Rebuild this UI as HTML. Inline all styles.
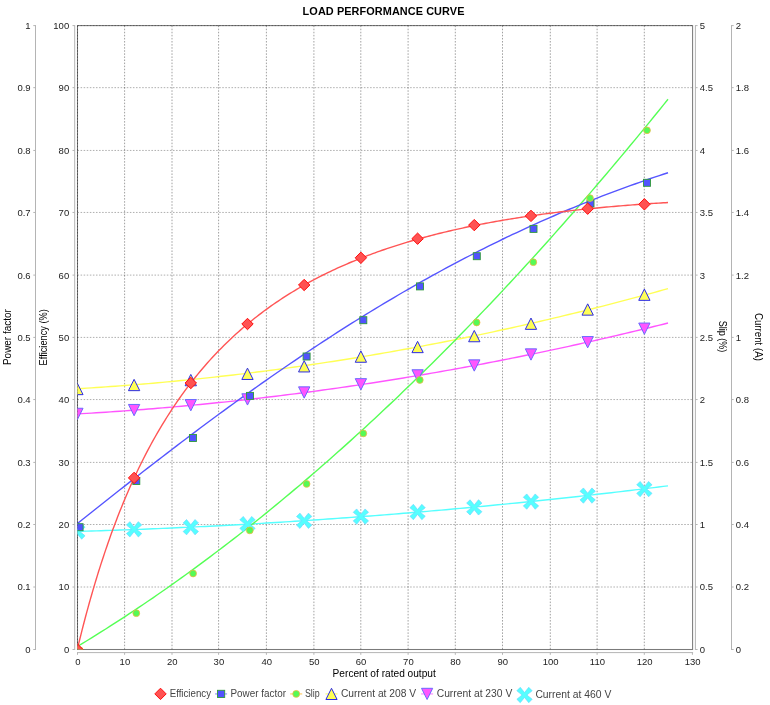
<!DOCTYPE html>
<html><head><meta charset="utf-8"><title>Load Performance Curve</title>
<style>
html,body{margin:0;padding:0;background:#fff;}
body{width:770px;height:705px;overflow:hidden;font-family:"Liberation Sans", sans-serif;}
svg{will-change:transform;}
svg text{font-family:"Liberation Sans", sans-serif;}
.tk{font-size:9.5px;fill:#222;}
.al{font-size:10px;fill:#000;}
.lg{font-size:10px;fill:#444;}
.title{font-size:10.9px;font-weight:bold;fill:#000;}
</style></head><body>
<svg width="770" height="705" viewBox="0 0 770 705" style="display:block">
<rect x="0" y="0" width="770" height="705" fill="#ffffff"/>
<defs><clipPath id="plotclip"><rect x="77.5" y="25.6" width="615.1" height="623.9"/></clipPath></defs>
<rect x="77.5" y="25.6" width="615.1" height="623.9" fill="none" stroke="#7a7a7a" stroke-width="1.05"/>
<g stroke="#000" stroke-opacity="0.47" stroke-width="0.8" stroke-dasharray="1.54 1.54" fill="none">
<line x1="77.50" y1="25.6" x2="77.50" y2="649.5"/>
<line x1="124.60" y1="25.6" x2="124.60" y2="649.5"/>
<line x1="172.00" y1="25.6" x2="172.00" y2="649.5"/>
<line x1="218.60" y1="25.6" x2="218.60" y2="649.5"/>
<line x1="266.40" y1="25.6" x2="266.40" y2="649.5"/>
<line x1="313.90" y1="25.6" x2="313.90" y2="649.5"/>
<line x1="360.80" y1="25.6" x2="360.80" y2="649.5"/>
<line x1="408.10" y1="25.6" x2="408.10" y2="649.5"/>
<line x1="455.30" y1="25.6" x2="455.30" y2="649.5"/>
<line x1="502.50" y1="25.6" x2="502.50" y2="649.5"/>
<line x1="550.30" y1="25.6" x2="550.30" y2="649.5"/>
<line x1="597.10" y1="25.6" x2="597.10" y2="649.5"/>
<line x1="644.30" y1="25.6" x2="644.30" y2="649.5"/>
</g>
<g stroke="#000" stroke-opacity="0.4" stroke-width="0.8" stroke-dasharray="1.54 1.54" fill="none">
<line x1="77.5" y1="587.00" x2="692.6" y2="587.00"/>
<line x1="77.5" y1="524.50" x2="692.6" y2="524.50"/>
<line x1="77.5" y1="462.40" x2="692.6" y2="462.40"/>
<line x1="77.5" y1="399.55" x2="692.6" y2="399.55"/>
<line x1="77.5" y1="337.40" x2="692.6" y2="337.40"/>
<line x1="77.5" y1="275.10" x2="692.6" y2="275.10"/>
<line x1="77.5" y1="212.45" x2="692.6" y2="212.45"/>
<line x1="77.5" y1="150.45" x2="692.6" y2="150.45"/>
<line x1="77.5" y1="87.66" x2="692.6" y2="87.66"/>
<line x1="77.5" y1="25.60" x2="692.6" y2="25.60"/>
</g>
<line x1="35.5" y1="25.1" x2="35.5" y2="650.0" stroke="#b4b4b4" stroke-width="1"/>
<line x1="35.5" y1="649.50" x2="33.3" y2="649.50" stroke="#b4b4b4" stroke-width="1"/>
<text x="30.6" y="652.90" text-anchor="end" class="tk">0</text>
<line x1="35.5" y1="587.00" x2="33.3" y2="587.00" stroke="#b4b4b4" stroke-width="1"/>
<text x="30.6" y="590.40" text-anchor="end" class="tk">0.1</text>
<line x1="35.5" y1="524.50" x2="33.3" y2="524.50" stroke="#b4b4b4" stroke-width="1"/>
<text x="30.6" y="527.90" text-anchor="end" class="tk">0.2</text>
<line x1="35.5" y1="462.40" x2="33.3" y2="462.40" stroke="#b4b4b4" stroke-width="1"/>
<text x="30.6" y="465.80" text-anchor="end" class="tk">0.3</text>
<line x1="35.5" y1="399.55" x2="33.3" y2="399.55" stroke="#b4b4b4" stroke-width="1"/>
<text x="30.6" y="402.95" text-anchor="end" class="tk">0.4</text>
<line x1="35.5" y1="337.40" x2="33.3" y2="337.40" stroke="#b4b4b4" stroke-width="1"/>
<text x="30.6" y="340.80" text-anchor="end" class="tk">0.5</text>
<line x1="35.5" y1="275.10" x2="33.3" y2="275.10" stroke="#b4b4b4" stroke-width="1"/>
<text x="30.6" y="278.50" text-anchor="end" class="tk">0.6</text>
<line x1="35.5" y1="212.45" x2="33.3" y2="212.45" stroke="#b4b4b4" stroke-width="1"/>
<text x="30.6" y="215.85" text-anchor="end" class="tk">0.7</text>
<line x1="35.5" y1="150.45" x2="33.3" y2="150.45" stroke="#b4b4b4" stroke-width="1"/>
<text x="30.6" y="153.85" text-anchor="end" class="tk">0.8</text>
<line x1="35.5" y1="87.66" x2="33.3" y2="87.66" stroke="#b4b4b4" stroke-width="1"/>
<text x="30.6" y="91.06" text-anchor="end" class="tk">0.9</text>
<line x1="35.5" y1="25.60" x2="33.3" y2="25.60" stroke="#b4b4b4" stroke-width="1"/>
<text x="30.6" y="29.00" text-anchor="end" class="tk">1</text>
<line x1="74.7" y1="25.1" x2="74.7" y2="650.0" stroke="#b4b4b4" stroke-width="1"/>
<line x1="74.7" y1="649.50" x2="72.5" y2="649.50" stroke="#b4b4b4" stroke-width="1"/>
<text x="69.2" y="652.90" text-anchor="end" class="tk">0</text>
<line x1="74.7" y1="587.00" x2="72.5" y2="587.00" stroke="#b4b4b4" stroke-width="1"/>
<text x="69.2" y="590.40" text-anchor="end" class="tk">10</text>
<line x1="74.7" y1="524.50" x2="72.5" y2="524.50" stroke="#b4b4b4" stroke-width="1"/>
<text x="69.2" y="527.90" text-anchor="end" class="tk">20</text>
<line x1="74.7" y1="462.40" x2="72.5" y2="462.40" stroke="#b4b4b4" stroke-width="1"/>
<text x="69.2" y="465.80" text-anchor="end" class="tk">30</text>
<line x1="74.7" y1="399.55" x2="72.5" y2="399.55" stroke="#b4b4b4" stroke-width="1"/>
<text x="69.2" y="402.95" text-anchor="end" class="tk">40</text>
<line x1="74.7" y1="337.40" x2="72.5" y2="337.40" stroke="#b4b4b4" stroke-width="1"/>
<text x="69.2" y="340.80" text-anchor="end" class="tk">50</text>
<line x1="74.7" y1="275.10" x2="72.5" y2="275.10" stroke="#b4b4b4" stroke-width="1"/>
<text x="69.2" y="278.50" text-anchor="end" class="tk">60</text>
<line x1="74.7" y1="212.45" x2="72.5" y2="212.45" stroke="#b4b4b4" stroke-width="1"/>
<text x="69.2" y="215.85" text-anchor="end" class="tk">70</text>
<line x1="74.7" y1="150.45" x2="72.5" y2="150.45" stroke="#b4b4b4" stroke-width="1"/>
<text x="69.2" y="153.85" text-anchor="end" class="tk">80</text>
<line x1="74.7" y1="87.66" x2="72.5" y2="87.66" stroke="#b4b4b4" stroke-width="1"/>
<text x="69.2" y="91.06" text-anchor="end" class="tk">90</text>
<line x1="74.7" y1="25.60" x2="72.5" y2="25.60" stroke="#b4b4b4" stroke-width="1"/>
<text x="69.2" y="29.00" text-anchor="end" class="tk">100</text>
<line x1="695.4" y1="25.1" x2="695.4" y2="650.0" stroke="#b4b4b4" stroke-width="1"/>
<line x1="695.4" y1="649.50" x2="697.6" y2="649.50" stroke="#b4b4b4" stroke-width="1"/>
<text x="699.8" y="652.90" text-anchor="start" class="tk">0</text>
<line x1="695.4" y1="587.00" x2="697.6" y2="587.00" stroke="#b4b4b4" stroke-width="1"/>
<text x="699.8" y="590.40" text-anchor="start" class="tk">0.5</text>
<line x1="695.4" y1="524.50" x2="697.6" y2="524.50" stroke="#b4b4b4" stroke-width="1"/>
<text x="699.8" y="527.90" text-anchor="start" class="tk">1</text>
<line x1="695.4" y1="462.40" x2="697.6" y2="462.40" stroke="#b4b4b4" stroke-width="1"/>
<text x="699.8" y="465.80" text-anchor="start" class="tk">1.5</text>
<line x1="695.4" y1="399.55" x2="697.6" y2="399.55" stroke="#b4b4b4" stroke-width="1"/>
<text x="699.8" y="402.95" text-anchor="start" class="tk">2</text>
<line x1="695.4" y1="337.40" x2="697.6" y2="337.40" stroke="#b4b4b4" stroke-width="1"/>
<text x="699.8" y="340.80" text-anchor="start" class="tk">2.5</text>
<line x1="695.4" y1="275.10" x2="697.6" y2="275.10" stroke="#b4b4b4" stroke-width="1"/>
<text x="699.8" y="278.50" text-anchor="start" class="tk">3</text>
<line x1="695.4" y1="212.45" x2="697.6" y2="212.45" stroke="#b4b4b4" stroke-width="1"/>
<text x="699.8" y="215.85" text-anchor="start" class="tk">3.5</text>
<line x1="695.4" y1="150.45" x2="697.6" y2="150.45" stroke="#b4b4b4" stroke-width="1"/>
<text x="699.8" y="153.85" text-anchor="start" class="tk">4</text>
<line x1="695.4" y1="87.66" x2="697.6" y2="87.66" stroke="#b4b4b4" stroke-width="1"/>
<text x="699.8" y="91.06" text-anchor="start" class="tk">4.5</text>
<line x1="695.4" y1="25.60" x2="697.6" y2="25.60" stroke="#b4b4b4" stroke-width="1"/>
<text x="699.8" y="29.00" text-anchor="start" class="tk">5</text>
<line x1="731.5" y1="25.1" x2="731.5" y2="650.0" stroke="#b4b4b4" stroke-width="1"/>
<line x1="731.5" y1="649.50" x2="733.7" y2="649.50" stroke="#b4b4b4" stroke-width="1"/>
<text x="735.8" y="652.90" text-anchor="start" class="tk">0</text>
<line x1="731.5" y1="587.00" x2="733.7" y2="587.00" stroke="#b4b4b4" stroke-width="1"/>
<text x="735.8" y="590.40" text-anchor="start" class="tk">0.2</text>
<line x1="731.5" y1="524.50" x2="733.7" y2="524.50" stroke="#b4b4b4" stroke-width="1"/>
<text x="735.8" y="527.90" text-anchor="start" class="tk">0.4</text>
<line x1="731.5" y1="462.40" x2="733.7" y2="462.40" stroke="#b4b4b4" stroke-width="1"/>
<text x="735.8" y="465.80" text-anchor="start" class="tk">0.6</text>
<line x1="731.5" y1="399.55" x2="733.7" y2="399.55" stroke="#b4b4b4" stroke-width="1"/>
<text x="735.8" y="402.95" text-anchor="start" class="tk">0.8</text>
<line x1="731.5" y1="337.40" x2="733.7" y2="337.40" stroke="#b4b4b4" stroke-width="1"/>
<text x="735.8" y="340.80" text-anchor="start" class="tk">1</text>
<line x1="731.5" y1="275.10" x2="733.7" y2="275.10" stroke="#b4b4b4" stroke-width="1"/>
<text x="735.8" y="278.50" text-anchor="start" class="tk">1.2</text>
<line x1="731.5" y1="212.45" x2="733.7" y2="212.45" stroke="#b4b4b4" stroke-width="1"/>
<text x="735.8" y="215.85" text-anchor="start" class="tk">1.4</text>
<line x1="731.5" y1="150.45" x2="733.7" y2="150.45" stroke="#b4b4b4" stroke-width="1"/>
<text x="735.8" y="153.85" text-anchor="start" class="tk">1.6</text>
<line x1="731.5" y1="87.66" x2="733.7" y2="87.66" stroke="#b4b4b4" stroke-width="1"/>
<text x="735.8" y="91.06" text-anchor="start" class="tk">1.8</text>
<line x1="731.5" y1="25.60" x2="733.7" y2="25.60" stroke="#b4b4b4" stroke-width="1"/>
<text x="735.8" y="29.00" text-anchor="start" class="tk">2</text>
<line x1="77.0" y1="652.6" x2="693.1" y2="652.6" stroke="#b4b4b4" stroke-width="1"/>
<line x1="77.50" y1="652.6" x2="77.50" y2="654.8000000000001" stroke="#b4b4b4" stroke-width="1"/>
<text x="77.80" y="664.9" text-anchor="middle" class="tk">0</text>
<line x1="124.60" y1="652.6" x2="124.60" y2="654.8000000000001" stroke="#b4b4b4" stroke-width="1"/>
<text x="124.90" y="664.9" text-anchor="middle" class="tk">10</text>
<line x1="172.00" y1="652.6" x2="172.00" y2="654.8000000000001" stroke="#b4b4b4" stroke-width="1"/>
<text x="172.30" y="664.9" text-anchor="middle" class="tk">20</text>
<line x1="218.60" y1="652.6" x2="218.60" y2="654.8000000000001" stroke="#b4b4b4" stroke-width="1"/>
<text x="218.90" y="664.9" text-anchor="middle" class="tk">30</text>
<line x1="266.40" y1="652.6" x2="266.40" y2="654.8000000000001" stroke="#b4b4b4" stroke-width="1"/>
<text x="266.70" y="664.9" text-anchor="middle" class="tk">40</text>
<line x1="313.90" y1="652.6" x2="313.90" y2="654.8000000000001" stroke="#b4b4b4" stroke-width="1"/>
<text x="314.20" y="664.9" text-anchor="middle" class="tk">50</text>
<line x1="360.80" y1="652.6" x2="360.80" y2="654.8000000000001" stroke="#b4b4b4" stroke-width="1"/>
<text x="361.10" y="664.9" text-anchor="middle" class="tk">60</text>
<line x1="408.10" y1="652.6" x2="408.10" y2="654.8000000000001" stroke="#b4b4b4" stroke-width="1"/>
<text x="408.40" y="664.9" text-anchor="middle" class="tk">70</text>
<line x1="455.30" y1="652.6" x2="455.30" y2="654.8000000000001" stroke="#b4b4b4" stroke-width="1"/>
<text x="455.60" y="664.9" text-anchor="middle" class="tk">80</text>
<line x1="502.50" y1="652.6" x2="502.50" y2="654.8000000000001" stroke="#b4b4b4" stroke-width="1"/>
<text x="502.80" y="664.9" text-anchor="middle" class="tk">90</text>
<line x1="550.30" y1="652.6" x2="550.30" y2="654.8000000000001" stroke="#b4b4b4" stroke-width="1"/>
<text x="550.60" y="664.9" text-anchor="middle" class="tk">100</text>
<line x1="597.10" y1="652.6" x2="597.10" y2="654.8000000000001" stroke="#b4b4b4" stroke-width="1"/>
<text x="597.40" y="664.9" text-anchor="middle" class="tk">110</text>
<line x1="644.30" y1="652.6" x2="644.30" y2="654.8000000000001" stroke="#b4b4b4" stroke-width="1"/>
<text x="644.60" y="664.9" text-anchor="middle" class="tk">120</text>
<line x1="692.40" y1="652.6" x2="692.40" y2="654.8000000000001" stroke="#b4b4b4" stroke-width="1"/>
<text x="692.70" y="664.9" text-anchor="middle" class="tk">130</text>
<g clip-path="url(#plotclip)" fill="none" stroke-width="1.4" stroke-linejoin="round">
<path d="M77.40,531.45 L82.12,531.31 L86.85,531.17 L91.57,531.03 L96.30,530.88 L101.02,530.72 L105.75,530.57 L110.47,530.41 L115.20,530.24 L119.92,530.07 L124.65,529.90 L129.37,529.73 L134.10,529.55 L138.82,529.37 L143.55,529.18 L148.27,528.99 L153.00,528.80 L157.72,528.60 L162.45,528.40 L167.17,528.19 L171.90,527.99 L176.62,527.77 L181.35,527.56 L186.07,527.34 L190.80,527.12 L195.52,526.89 L200.24,526.66 L204.97,526.43 L209.69,526.19 L214.42,525.95 L219.14,525.70 L223.87,525.46 L228.59,525.20 L233.32,524.95 L238.04,524.69 L242.77,524.43 L247.49,524.16 L252.22,523.89 L256.94,523.62 L261.67,523.34 L266.39,523.06 L271.12,522.77 L275.84,522.49 L280.57,522.19 L285.29,521.90 L290.02,521.60 L294.74,521.30 L299.47,520.99 L304.19,520.68 L308.92,520.37 L313.64,520.05 L318.36,519.73 L323.09,519.40 L327.81,519.07 L332.54,518.74 L337.26,518.41 L341.99,518.07 L346.71,517.72 L351.44,517.38 L356.16,517.03 L360.89,516.67 L365.61,516.31 L370.34,515.95 L375.06,515.59 L379.79,515.22 L384.51,514.85 L389.24,514.47 L393.96,514.09 L398.69,513.71 L403.41,513.32 L408.14,512.93 L412.86,512.54 L417.59,512.14 L422.31,511.74 L427.04,511.33 L431.76,510.92 L436.48,510.51 L441.21,510.09 L445.93,509.68 L450.66,509.25 L455.38,508.82 L460.11,508.39 L464.83,507.96 L469.56,507.52 L474.28,507.08 L479.01,506.64 L483.73,506.19 L488.46,505.73 L493.18,505.28 L497.91,504.82 L502.63,504.35 L507.36,503.89 L512.08,503.42 L516.81,502.94 L521.53,502.46 L526.26,501.98 L530.98,501.50 L535.71,501.01 L540.43,500.51 L545.16,500.02 L549.88,499.52 L554.60,499.01 L559.33,498.51 L564.05,498.00 L568.78,497.48 L573.50,496.96 L578.23,496.44 L582.95,495.92 L587.68,495.39 L592.40,494.85 L597.13,494.32 L601.85,493.78 L606.58,493.23 L611.30,492.69 L616.03,492.13 L620.75,491.58 L625.48,491.02 L630.20,490.46 L634.93,489.89 L639.65,489.32 L644.38,488.75 L649.10,488.17 L653.83,487.59 L658.55,487.01 L663.28,486.42 L668.00,485.83" stroke="#55ffff"/>
<path d="M77.40,413.92 L82.12,413.64 L86.85,413.36 L91.57,413.08 L96.30,412.79 L101.02,412.48 L105.75,412.18 L110.47,411.86 L115.20,411.54 L119.92,411.21 L124.65,410.87 L129.37,410.52 L134.10,410.17 L138.82,409.81 L143.55,409.45 L148.27,409.07 L153.00,408.69 L157.72,408.30 L162.45,407.90 L167.17,407.50 L171.90,407.09 L176.62,406.67 L181.35,406.24 L186.07,405.81 L190.80,405.37 L195.52,404.92 L200.24,404.47 L204.97,404.01 L209.69,403.54 L214.42,403.06 L219.14,402.57 L223.87,402.08 L228.59,401.58 L233.32,401.08 L238.04,400.56 L242.77,400.04 L247.49,399.51 L252.22,398.98 L256.94,398.43 L261.67,397.88 L266.39,397.32 L271.12,396.76 L275.84,396.19 L280.57,395.60 L285.29,395.02 L290.02,394.42 L294.74,393.82 L299.47,393.21 L304.19,392.59 L308.92,391.97 L313.64,391.34 L318.36,390.70 L323.09,390.05 L327.81,389.40 L332.54,388.74 L337.26,388.07 L341.99,387.39 L346.71,386.71 L351.44,386.02 L356.16,385.32 L360.89,384.62 L365.61,383.91 L370.34,383.19 L375.06,382.46 L379.79,381.72 L384.51,380.98 L389.24,380.23 L393.96,379.48 L398.69,378.71 L403.41,377.94 L408.14,377.16 L412.86,376.38 L417.59,375.58 L422.31,374.78 L427.04,373.98 L431.76,373.16 L436.48,372.34 L441.21,371.51 L445.93,370.67 L450.66,369.83 L455.38,368.97 L460.11,368.11 L464.83,367.25 L469.56,366.37 L474.28,365.49 L479.01,364.60 L483.73,363.71 L488.46,362.80 L493.18,361.89 L497.91,360.98 L502.63,360.05 L507.36,359.12 L512.08,358.18 L516.81,357.23 L521.53,356.27 L526.26,355.31 L530.98,354.34 L535.71,353.37 L540.43,352.38 L545.16,351.39 L549.88,350.39 L554.60,349.38 L559.33,348.37 L564.05,347.35 L568.78,346.32 L573.50,345.29 L578.23,344.24 L582.95,343.19 L587.68,342.13 L592.40,341.07 L597.13,340.00 L601.85,338.92 L606.58,337.83 L611.30,336.73 L616.03,335.63 L620.75,334.52 L625.48,333.41 L630.20,332.28 L634.93,331.15 L639.65,330.01 L644.38,328.87 L649.10,327.71 L653.83,326.55 L658.55,325.39 L663.28,324.21 L668.00,323.03" stroke="#ff55ff"/>
<path d="M77.40,388.74 L82.12,388.46 L86.85,388.16 L91.57,387.86 L96.30,387.55 L101.02,387.23 L105.75,386.91 L110.47,386.57 L115.20,386.23 L119.92,385.88 L124.65,385.52 L129.37,385.15 L134.10,384.77 L138.82,384.39 L143.55,384.00 L148.27,383.59 L153.00,383.18 L157.72,382.77 L162.45,382.34 L167.17,381.90 L171.90,381.46 L176.62,381.01 L181.35,380.55 L186.07,380.08 L190.80,379.61 L195.52,379.12 L200.24,378.63 L204.97,378.13 L209.69,377.62 L214.42,377.10 L219.14,376.57 L223.87,376.04 L228.59,375.50 L233.32,374.95 L238.04,374.39 L242.77,373.82 L247.49,373.24 L252.22,372.66 L256.94,372.06 L261.67,371.46 L266.39,370.85 L271.12,370.24 L275.84,369.61 L280.57,368.98 L285.29,368.33 L290.02,367.68 L294.74,367.02 L299.47,366.35 L304.19,365.68 L308.92,364.99 L313.64,364.30 L318.36,363.60 L323.09,362.89 L327.81,362.17 L332.54,361.45 L337.26,360.71 L341.99,359.97 L346.71,359.22 L351.44,358.46 L356.16,357.69 L360.89,356.92 L365.61,356.13 L370.34,355.34 L375.06,354.54 L379.79,353.73 L384.51,352.91 L389.24,352.09 L393.96,351.25 L398.69,350.41 L403.41,349.56 L408.14,348.70 L412.86,347.83 L417.59,346.96 L422.31,346.07 L427.04,345.18 L431.76,344.28 L436.48,343.37 L441.21,342.45 L445.93,341.53 L450.66,340.59 L455.38,339.65 L460.11,338.70 L464.83,337.74 L469.56,336.78 L474.28,335.80 L479.01,334.82 L483.73,333.82 L488.46,332.82 L493.18,331.81 L497.91,330.80 L502.63,329.77 L507.36,328.74 L512.08,327.70 L516.81,326.64 L521.53,325.59 L526.26,324.52 L530.98,323.44 L535.71,322.36 L540.43,321.27 L545.16,320.17 L549.88,319.06 L554.60,317.94 L559.33,316.82 L564.05,315.68 L568.78,314.54 L573.50,313.39 L578.23,312.23 L582.95,311.06 L587.68,309.89 L592.40,308.71 L597.13,307.51 L601.85,306.31 L606.58,305.10 L611.30,303.89 L616.03,302.66 L620.75,301.43 L625.48,300.19 L630.20,298.94 L634.93,297.68 L639.65,296.41 L644.38,295.14 L649.10,293.85 L653.83,292.56 L658.55,291.26 L663.28,289.95 L668.00,288.64" stroke="#ffff55"/>
<path d="M77.40,646.48 L82.12,643.62 L86.85,640.74 L91.57,637.84 L96.30,634.91 L101.02,631.95 L105.75,628.97 L110.47,625.96 L115.20,622.93 L119.92,619.88 L124.65,616.80 L129.37,613.69 L134.10,610.56 L138.82,607.41 L143.55,604.23 L148.27,601.03 L153.00,597.80 L157.72,594.54 L162.45,591.26 L167.17,587.96 L171.90,584.63 L176.62,581.28 L181.35,577.90 L186.07,574.50 L190.80,571.07 L195.52,567.61 L200.24,564.14 L204.97,560.64 L209.69,557.11 L214.42,553.56 L219.14,549.98 L223.87,546.38 L228.59,542.75 L233.32,539.10 L238.04,535.43 L242.77,531.73 L247.49,528.00 L252.22,524.26 L256.94,520.48 L261.67,516.68 L266.39,512.86 L271.12,509.01 L275.84,505.14 L280.57,501.25 L285.29,497.32 L290.02,493.38 L294.74,489.41 L299.47,485.41 L304.19,481.40 L308.92,477.35 L313.64,473.28 L318.36,469.19 L323.09,465.07 L327.81,460.93 L332.54,456.77 L337.26,452.58 L341.99,448.36 L346.71,444.12 L351.44,439.86 L356.16,435.57 L360.89,431.26 L365.61,426.92 L370.34,422.56 L375.06,418.18 L379.79,413.77 L384.51,409.33 L389.24,404.88 L393.96,400.39 L398.69,395.89 L403.41,391.36 L408.14,386.80 L412.86,382.22 L417.59,377.62 L422.31,372.99 L427.04,368.34 L431.76,363.66 L436.48,358.96 L441.21,354.23 L445.93,349.49 L450.66,344.71 L455.38,339.92 L460.11,335.09 L464.83,330.25 L469.56,325.38 L474.28,320.49 L479.01,315.57 L483.73,310.63 L488.46,305.66 L493.18,300.67 L497.91,295.66 L502.63,290.62 L507.36,285.56 L512.08,280.47 L516.81,275.36 L521.53,270.23 L526.26,265.07 L530.98,259.89 L535.71,254.68 L540.43,249.45 L545.16,244.20 L549.88,238.92 L554.60,233.62 L559.33,228.29 L564.05,222.94 L568.78,217.57 L573.50,212.17 L578.23,206.75 L582.95,201.30 L587.68,195.84 L592.40,190.34 L597.13,184.83 L601.85,179.29 L606.58,173.72 L611.30,168.14 L616.03,162.52 L620.75,156.89 L625.48,151.23 L630.20,145.55 L634.93,139.84 L639.65,134.11 L644.38,128.36 L649.10,122.58 L653.83,116.78 L658.55,110.95 L663.28,105.11 L668.00,99.23" stroke="#55ff55"/>
<path d="M77.40,523.59 L82.12,519.81 L86.85,516.04 L91.57,512.27 L96.30,508.51 L101.02,504.75 L105.75,501.01 L110.47,497.27 L115.20,493.53 L119.92,489.81 L124.65,486.09 L129.37,482.38 L134.10,478.69 L138.82,475.00 L143.55,471.32 L148.27,467.65 L153.00,463.99 L157.72,460.34 L162.45,456.71 L167.17,453.08 L171.90,449.47 L176.62,445.87 L181.35,442.28 L186.07,438.70 L190.80,435.14 L195.52,431.59 L200.24,428.05 L204.97,424.53 L209.69,421.02 L214.42,417.53 L219.14,414.05 L223.87,410.58 L228.59,407.13 L233.32,403.70 L238.04,400.28 L242.77,396.87 L247.49,393.49 L252.22,390.12 L256.94,386.76 L261.67,383.42 L266.39,380.10 L271.12,376.80 L275.84,373.51 L280.57,370.24 L285.29,366.99 L290.02,363.76 L294.74,360.55 L299.47,357.35 L304.19,354.17 L308.92,351.01 L313.64,347.87 L318.36,344.75 L323.09,341.65 L327.81,338.57 L332.54,335.51 L337.26,332.46 L341.99,329.44 L346.71,326.44 L351.44,323.45 L356.16,320.49 L360.89,317.55 L365.61,314.63 L370.34,311.73 L375.06,308.85 L379.79,305.99 L384.51,303.15 L389.24,300.33 L393.96,297.54 L398.69,294.76 L403.41,292.01 L408.14,289.28 L412.86,286.57 L417.59,283.88 L422.31,281.21 L427.04,278.57 L431.76,275.94 L436.48,273.34 L441.21,270.76 L445.93,268.21 L450.66,265.67 L455.38,263.16 L460.11,260.67 L464.83,258.20 L469.56,255.75 L474.28,253.33 L479.01,250.92 L483.73,248.54 L488.46,246.19 L493.18,243.85 L497.91,241.54 L502.63,239.25 L507.36,236.98 L512.08,234.73 L516.81,232.51 L521.53,230.30 L526.26,228.12 L530.98,225.97 L535.71,223.83 L540.43,221.72 L545.16,219.62 L549.88,217.55 L554.60,215.51 L559.33,213.48 L564.05,211.48 L568.78,209.49 L573.50,207.53 L578.23,205.59 L582.95,203.68 L587.68,201.78 L592.40,199.91 L597.13,198.05 L601.85,196.22 L606.58,194.41 L611.30,192.62 L616.03,190.85 L620.75,189.10 L625.48,187.37 L630.20,185.66 L634.93,183.97 L639.65,182.30 L644.38,180.66 L649.10,179.03 L653.83,177.42 L658.55,175.83 L663.28,174.26 L668.00,172.71" stroke="#5555ff"/>
<path d="M77.40,649.00 L78.58,644.11 L79.76,639.29 L80.94,634.55 L82.12,629.88 L83.31,625.28 L84.49,620.75 L85.67,616.29 L86.85,611.90 L88.03,607.57 L89.21,603.30 L90.39,599.10 L91.57,594.96 L92.76,590.88 L93.94,586.86 L95.12,582.89 L96.30,578.98 L97.48,575.13 L98.66,571.33 L99.84,567.59 L101.02,563.89 L102.21,560.25 L103.39,556.66 L104.57,553.11 L105.75,549.61 L106.93,546.17 L108.11,542.76 L109.29,539.41 L110.47,536.09 L111.65,532.82 L112.84,529.60 L114.02,526.41 L115.20,523.27 L116.38,520.17 L117.56,517.10 L118.74,514.08 L119.92,511.10 L121.10,508.15 L122.29,505.24 L123.47,502.36 L124.65,499.52 L125.83,496.72 L127.01,493.95 L128.19,491.22 L129.37,488.51 L130.55,485.84 L131.74,483.21 L132.92,480.60 L134.10,478.03 L136.46,472.97 L138.82,468.03 L141.18,463.21 L143.55,458.49 L145.91,453.89 L148.27,449.39 L150.63,444.98 L153.00,440.68 L155.36,436.47 L157.72,432.35 L160.08,428.32 L162.45,424.38 L164.81,420.52 L167.17,416.75 L169.53,413.05 L171.90,409.43 L174.26,405.88 L176.62,402.41 L178.98,399.00 L181.35,395.67 L183.71,392.40 L186.07,389.20 L188.43,386.06 L190.80,382.98 L193.16,379.96 L195.52,377.00 L197.88,374.10 L200.24,371.25 L202.61,368.46 L204.97,365.71 L207.33,363.02 L209.69,360.38 L212.06,357.79 L214.42,355.25 L216.78,352.75 L219.14,350.30 L221.51,347.89 L223.87,345.53 L226.23,343.20 L228.59,340.92 L230.96,338.68 L233.32,336.48 L235.68,334.32 L238.04,332.19 L240.41,330.10 L242.77,328.05 L245.13,326.03 L247.49,324.04 L249.86,322.09 L252.22,320.18 L254.58,318.29 L256.94,316.44 L259.30,314.61 L261.67,312.82 L264.03,311.06 L266.39,309.32 L268.75,307.61 L271.12,305.94 L273.48,304.28 L275.84,302.66 L278.20,301.06 L280.57,299.49 L282.93,297.94 L285.29,296.41 L287.65,294.91 L290.02,293.44 L292.38,291.98 L294.74,290.55 L297.10,289.14 L299.47,287.75 L301.83,286.39 L304.19,285.04 L306.55,283.72 L308.92,282.42 L311.28,281.13 L313.64,279.87 L316.00,278.62 L318.36,277.40 L320.73,276.19 L323.09,275.00 L325.45,273.82 L327.81,272.67 L330.18,271.53 L332.54,270.41 L334.90,269.30 L337.26,268.22 L339.63,267.14 L341.99,266.09 L344.35,265.05 L346.71,264.02 L349.08,263.01 L351.44,262.01 L353.80,261.03 L356.16,260.06 L358.53,259.11 L360.89,258.17 L363.25,257.24 L365.61,256.33 L367.98,255.42 L370.34,254.54 L372.70,253.66 L375.06,252.80 L377.42,251.95 L379.79,251.11 L382.15,250.28 L384.51,249.47 L386.87,248.66 L389.24,247.87 L391.60,247.09 L393.96,246.32 L396.32,245.56 L398.69,244.81 L401.05,244.07 L403.41,243.34 L405.77,242.62 L408.14,241.91 L410.50,241.22 L412.86,240.53 L415.22,239.85 L417.59,239.18 L419.95,238.52 L422.31,237.86 L424.67,237.22 L427.04,236.59 L429.40,235.96 L431.76,235.35 L434.12,234.74 L436.48,234.14 L438.85,233.55 L441.21,232.96 L443.57,232.39 L445.93,231.82 L448.30,231.26 L450.66,230.71 L453.02,230.16 L455.38,229.63 L457.75,229.10 L460.11,228.57 L462.47,228.06 L464.83,227.55 L467.20,227.05 L469.56,226.55 L471.92,226.07 L474.28,225.59 L476.65,225.11 L479.01,224.64 L481.37,224.18 L483.73,223.73 L486.10,223.28 L488.46,222.84 L490.82,222.40 L493.18,221.97 L495.54,221.54 L497.91,221.12 L500.27,220.71 L502.63,220.30 L504.99,219.90 L507.36,219.51 L509.72,219.11 L512.08,218.73 L514.44,218.35 L516.81,217.97 L519.17,217.60 L521.53,217.24 L523.89,216.88 L526.26,216.53 L528.62,216.18 L530.98,215.83 L533.34,215.49 L535.71,215.16 L538.07,214.83 L540.43,214.50 L542.79,214.18 L545.16,213.87 L547.52,213.55 L549.88,213.25 L552.24,212.94 L554.60,212.64 L556.97,212.35 L559.33,212.06 L561.69,211.77 L564.05,211.49 L566.42,211.21 L568.78,210.94 L571.14,210.67 L573.50,210.40 L575.87,210.14 L578.23,209.88 L580.59,209.63 L582.95,209.38 L585.32,209.13 L587.68,208.89 L590.04,208.65 L592.40,208.41 L594.77,208.18 L597.13,207.95 L599.49,207.73 L601.85,207.51 L604.22,207.29 L606.58,207.07 L608.94,206.86 L611.30,206.65 L613.66,206.45 L616.03,206.24 L618.39,206.05 L620.75,205.85 L623.11,205.66 L625.48,205.47 L627.84,205.28 L630.20,205.10 L632.56,204.92 L634.93,204.74 L637.29,204.56 L639.65,204.39 L642.01,204.22 L644.38,204.06 L646.74,203.89 L649.10,203.73 L651.46,203.57 L653.83,203.42 L656.19,203.27 L658.55,203.12 L660.91,202.97 L663.28,202.82 L665.64,202.68 L668.00,202.54" stroke="#ff5555"/>
</g>
<g clip-path="url(#plotclip)">
<path d="M69.75,527.25 L73.15,523.85 L77.40,529.10 L81.65,523.85 L85.05,527.25 L79.80,531.50 L85.05,535.75 L81.65,539.15 L77.40,533.90 L73.15,539.15 L69.75,535.75 L75.00,531.50Z" fill="#55ffff" stroke="#6ad8ff" stroke-width="0.7"/>
<path d="M126.45,525.05 L129.85,521.65 L134.10,526.90 L138.35,521.65 L141.75,525.05 L136.50,529.30 L141.75,533.55 L138.35,536.95 L134.10,531.70 L129.85,536.95 L126.45,533.55 L131.69,529.30Z" fill="#55ffff" stroke="#6ad8ff" stroke-width="0.7"/>
<path d="M183.15,522.95 L186.55,519.55 L190.80,524.80 L195.05,519.55 L198.45,522.95 L193.20,527.20 L198.45,531.45 L195.05,534.85 L190.80,529.60 L186.55,534.85 L183.15,531.45 L188.39,527.20Z" fill="#55ffff" stroke="#6ad8ff" stroke-width="0.7"/>
<path d="M239.84,519.85 L243.24,516.45 L247.49,521.70 L251.74,516.45 L255.14,519.85 L249.90,524.10 L255.14,528.35 L251.74,531.75 L247.49,526.50 L243.24,531.75 L239.84,528.35 L245.09,524.10Z" fill="#55ffff" stroke="#6ad8ff" stroke-width="0.7"/>
<path d="M296.54,516.55 L299.94,513.15 L304.19,518.40 L308.44,513.15 L311.84,516.55 L306.59,520.80 L311.84,525.05 L308.44,528.45 L304.19,523.20 L299.94,528.45 L296.54,525.05 L301.79,520.80Z" fill="#55ffff" stroke="#6ad8ff" stroke-width="0.7"/>
<path d="M353.24,512.35 L356.64,508.95 L360.89,514.20 L365.14,508.95 L368.54,512.35 L363.29,516.60 L368.54,520.85 L365.14,524.25 L360.89,519.00 L356.64,524.25 L353.24,520.85 L358.48,516.60Z" fill="#55ffff" stroke="#6ad8ff" stroke-width="0.7"/>
<path d="M409.94,507.75 L413.34,504.35 L417.59,509.60 L421.84,504.35 L425.24,507.75 L419.99,512.00 L425.24,516.25 L421.84,519.65 L417.59,514.40 L413.34,519.65 L409.94,516.25 L415.18,512.00Z" fill="#55ffff" stroke="#6ad8ff" stroke-width="0.7"/>
<path d="M466.63,503.15 L470.03,499.75 L474.28,505.00 L478.53,499.75 L481.93,503.15 L476.69,507.40 L481.93,511.65 L478.53,515.05 L474.28,509.80 L470.03,515.05 L466.63,511.65 L471.88,507.40Z" fill="#55ffff" stroke="#6ad8ff" stroke-width="0.7"/>
<path d="M523.33,497.35 L526.73,493.95 L530.98,499.20 L535.23,493.95 L538.63,497.35 L533.38,501.60 L538.63,505.85 L535.23,509.25 L530.98,504.00 L526.73,509.25 L523.33,505.85 L528.58,501.60Z" fill="#55ffff" stroke="#6ad8ff" stroke-width="0.7"/>
<path d="M580.03,491.35 L583.43,487.95 L587.68,493.20 L591.93,487.95 L595.33,491.35 L590.08,495.60 L595.33,499.85 L591.93,503.25 L587.68,498.00 L583.43,503.25 L580.03,499.85 L585.27,495.60Z" fill="#55ffff" stroke="#6ad8ff" stroke-width="0.7"/>
<path d="M636.73,484.85 L640.13,481.45 L644.38,486.70 L648.63,481.45 L652.03,484.85 L646.78,489.10 L652.03,493.35 L648.63,496.75 L644.38,491.50 L640.13,496.75 L636.73,493.35 L641.97,489.10Z" fill="#55ffff" stroke="#6ad8ff" stroke-width="0.7"/>
<path d="M77.40,419.55 L83.05,408.25 L71.75,408.25Z" fill="#ff55ff" stroke="#6a6aff" stroke-width="1" stroke-linejoin="miter"/>
<path d="M134.10,415.75 L139.75,404.45 L128.45,404.45Z" fill="#ff55ff" stroke="#6a6aff" stroke-width="1" stroke-linejoin="miter"/>
<path d="M190.80,410.85 L196.45,399.55 L185.15,399.55Z" fill="#ff55ff" stroke="#6a6aff" stroke-width="1" stroke-linejoin="miter"/>
<path d="M247.49,405.05 L253.14,393.75 L241.84,393.75Z" fill="#ff55ff" stroke="#6a6aff" stroke-width="1" stroke-linejoin="miter"/>
<path d="M304.19,398.15 L309.84,386.85 L298.54,386.85Z" fill="#ff55ff" stroke="#6a6aff" stroke-width="1" stroke-linejoin="miter"/>
<path d="M360.89,389.95 L366.54,378.65 L355.24,378.65Z" fill="#ff55ff" stroke="#6a6aff" stroke-width="1" stroke-linejoin="miter"/>
<path d="M417.59,381.05 L423.24,369.75 L411.94,369.75Z" fill="#ff55ff" stroke="#6a6aff" stroke-width="1" stroke-linejoin="miter"/>
<path d="M474.28,371.15 L479.93,359.85 L468.63,359.85Z" fill="#ff55ff" stroke="#6a6aff" stroke-width="1" stroke-linejoin="miter"/>
<path d="M530.98,360.15 L536.63,348.85 L525.33,348.85Z" fill="#ff55ff" stroke="#6a6aff" stroke-width="1" stroke-linejoin="miter"/>
<path d="M587.68,347.85 L593.33,336.55 L582.03,336.55Z" fill="#ff55ff" stroke="#6a6aff" stroke-width="1" stroke-linejoin="miter"/>
<path d="M644.38,334.35 L650.03,323.05 L638.73,323.05Z" fill="#ff55ff" stroke="#6a6aff" stroke-width="1" stroke-linejoin="miter"/>
<path d="M77.40,383.35 L83.05,394.65 L71.75,394.65Z" fill="#ffff55" stroke="#2b2be6" stroke-width="1" stroke-linejoin="miter"/>
<path d="M134.10,379.35 L139.75,390.65 L128.45,390.65Z" fill="#ffff55" stroke="#2b2be6" stroke-width="1" stroke-linejoin="miter"/>
<path d="M190.80,374.45 L196.45,385.75 L185.15,385.75Z" fill="#ffff55" stroke="#2b2be6" stroke-width="1" stroke-linejoin="miter"/>
<path d="M247.49,368.15 L253.14,379.45 L241.84,379.45Z" fill="#ffff55" stroke="#2b2be6" stroke-width="1" stroke-linejoin="miter"/>
<path d="M304.19,360.65 L309.84,371.95 L298.54,371.95Z" fill="#ffff55" stroke="#2b2be6" stroke-width="1" stroke-linejoin="miter"/>
<path d="M360.89,350.95 L366.54,362.25 L355.24,362.25Z" fill="#ffff55" stroke="#2b2be6" stroke-width="1" stroke-linejoin="miter"/>
<path d="M417.59,341.35 L423.24,352.65 L411.94,352.65Z" fill="#ffff55" stroke="#2b2be6" stroke-width="1" stroke-linejoin="miter"/>
<path d="M474.28,330.45 L479.93,341.75 L468.63,341.75Z" fill="#ffff55" stroke="#2b2be6" stroke-width="1" stroke-linejoin="miter"/>
<path d="M530.98,318.05 L536.63,329.35 L525.33,329.35Z" fill="#ffff55" stroke="#2b2be6" stroke-width="1" stroke-linejoin="miter"/>
<path d="M587.68,303.85 L593.33,315.15 L582.03,315.15Z" fill="#ffff55" stroke="#2b2be6" stroke-width="1" stroke-linejoin="miter"/>
<path d="M644.38,289.05 L650.03,300.35 L638.73,300.35Z" fill="#ffff55" stroke="#2b2be6" stroke-width="1" stroke-linejoin="miter"/>
<rect x="76.10" y="523.70" width="7.00" height="7.00" fill="#5252ff" stroke="#2f9a3a" stroke-width="0.9"/>
<rect x="132.80" y="477.50" width="7.00" height="7.00" fill="#5252ff" stroke="#2f9a3a" stroke-width="0.9"/>
<rect x="189.50" y="434.50" width="7.00" height="7.00" fill="#5252ff" stroke="#2f9a3a" stroke-width="0.9"/>
<rect x="246.50" y="392.40" width="7.00" height="7.00" fill="#5252ff" stroke="#2f9a3a" stroke-width="0.9"/>
<rect x="303.10" y="353.00" width="7.00" height="7.00" fill="#5252ff" stroke="#2f9a3a" stroke-width="0.9"/>
<rect x="359.80" y="316.70" width="7.00" height="7.00" fill="#5252ff" stroke="#2f9a3a" stroke-width="0.9"/>
<rect x="416.50" y="282.90" width="7.00" height="7.00" fill="#5252ff" stroke="#2f9a3a" stroke-width="0.9"/>
<rect x="473.30" y="252.70" width="7.00" height="7.00" fill="#5252ff" stroke="#2f9a3a" stroke-width="0.9"/>
<rect x="530.00" y="225.40" width="7.00" height="7.00" fill="#5252ff" stroke="#2f9a3a" stroke-width="0.9"/>
<rect x="587.00" y="200.00" width="7.00" height="7.00" fill="#5252ff" stroke="#2f9a3a" stroke-width="0.9"/>
<rect x="643.50" y="179.30" width="7.00" height="7.00" fill="#5252ff" stroke="#2f9a3a" stroke-width="0.9"/>
<circle cx="79.60" cy="650.20" r="3.4" fill="#55fa55" stroke="#f7b540" stroke-width="0.75"/>
<circle cx="136.30" cy="613.20" r="3.4" fill="#55fa55" stroke="#f7b540" stroke-width="0.75"/>
<circle cx="193.10" cy="573.50" r="3.4" fill="#55fa55" stroke="#f7b540" stroke-width="0.75"/>
<circle cx="249.80" cy="530.40" r="3.4" fill="#55fa55" stroke="#f7b540" stroke-width="0.75"/>
<circle cx="306.60" cy="483.90" r="3.4" fill="#55fa55" stroke="#f7b540" stroke-width="0.75"/>
<circle cx="363.30" cy="433.40" r="3.4" fill="#55fa55" stroke="#f7b540" stroke-width="0.75"/>
<circle cx="419.80" cy="380.00" r="3.4" fill="#55fa55" stroke="#f7b540" stroke-width="0.75"/>
<circle cx="476.60" cy="322.50" r="3.4" fill="#55fa55" stroke="#f7b540" stroke-width="0.75"/>
<circle cx="533.30" cy="262.20" r="3.4" fill="#55fa55" stroke="#f7b540" stroke-width="0.75"/>
<circle cx="590.00" cy="198.10" r="3.4" fill="#55fa55" stroke="#f7b540" stroke-width="0.75"/>
<circle cx="647.00" cy="130.30" r="3.4" fill="#55fa55" stroke="#f7b540" stroke-width="0.75"/>
<path d="M77.40,643.80 L83.10,649.50 L77.40,655.20 L71.70,649.50Z" fill="#ff5252" stroke="#ff0c0c" stroke-width="1"/>
<path d="M134.10,472.20 L139.80,477.90 L134.10,483.60 L128.40,477.90Z" fill="#ff5252" stroke="#ff0c0c" stroke-width="1"/>
<path d="M190.80,377.30 L196.50,383.00 L190.80,388.70 L185.10,383.00Z" fill="#ff5252" stroke="#ff0c0c" stroke-width="1"/>
<path d="M247.49,318.30 L253.19,324.00 L247.49,329.70 L241.79,324.00Z" fill="#ff5252" stroke="#ff0c0c" stroke-width="1"/>
<path d="M304.19,279.30 L309.89,285.00 L304.19,290.70 L298.49,285.00Z" fill="#ff5252" stroke="#ff0c0c" stroke-width="1"/>
<path d="M360.89,252.10 L366.59,257.80 L360.89,263.50 L355.19,257.80Z" fill="#ff5252" stroke="#ff0c0c" stroke-width="1"/>
<path d="M417.59,233.00 L423.29,238.70 L417.59,244.40 L411.89,238.70Z" fill="#ff5252" stroke="#ff0c0c" stroke-width="1"/>
<path d="M474.28,219.40 L479.98,225.10 L474.28,230.80 L468.58,225.10Z" fill="#ff5252" stroke="#ff0c0c" stroke-width="1"/>
<path d="M530.98,210.20 L536.68,215.90 L530.98,221.60 L525.28,215.90Z" fill="#ff5252" stroke="#ff0c0c" stroke-width="1"/>
<path d="M587.68,203.00 L593.38,208.70 L587.68,214.40 L581.98,208.70Z" fill="#ff5252" stroke="#ff0c0c" stroke-width="1"/>
<path d="M644.38,198.60 L650.08,204.30 L644.38,210.00 L638.68,204.30Z" fill="#ff5252" stroke="#ff0c0c" stroke-width="1"/>
</g>
<text x="383.5" y="14.9" text-anchor="middle" class="title" textLength="161.8" lengthAdjust="spacing">LOAD PERFORMANCE CURVE</text>
<text x="384.2" y="676.8" text-anchor="middle" class="al" textLength="103.2" lengthAdjust="spacingAndGlyphs">Percent of rated output</text>
<text transform="translate(11.3,337.1) rotate(-90)" text-anchor="middle" class="al" textLength="55.9" lengthAdjust="spacingAndGlyphs">Power factor</text>
<text transform="translate(47.3,337.3) rotate(-90)" text-anchor="middle" class="al" textLength="56.2" lengthAdjust="spacingAndGlyphs">Efficiency (%)</text>
<text transform="translate(719.3,336.5) rotate(90)" text-anchor="middle" class="al" textLength="31.7" lengthAdjust="spacingAndGlyphs">Slip (%)</text>
<text transform="translate(755.2,336.9) rotate(90)" text-anchor="middle" class="al" textLength="47.9" lengthAdjust="spacingAndGlyphs">Current (A)</text>
<path d="M160.50,688.20 L166.20,693.90 L160.50,699.60 L154.80,693.90Z" fill="#ff5252" stroke="#ff0c0c" stroke-width="1"/>
<text x="169.7" y="696.8" class="lg" textLength="41.3" lengthAdjust="spacingAndGlyphs">Efficiency</text>
<line x1="215.1" y1="693.9" x2="227.1" y2="693.9" stroke="#b4b4ff" stroke-width="1.7"/>
<rect x="217.50" y="690.30" width="7.20" height="7.20" fill="#5252ff" stroke="#2f9a3a" stroke-width="0.9"/>
<text x="230.5" y="696.8" class="lg" textLength="55.5" lengthAdjust="spacingAndGlyphs">Power factor</text>
<line x1="290.2" y1="693.9" x2="302.2" y2="693.9" stroke="#ffdc96" stroke-width="1.7"/>
<circle cx="296.20" cy="693.90" r="3.45" fill="#55fa55" stroke="#f7b540" stroke-width="0.75"/>
<text x="304.9" y="696.8" class="lg" textLength="14.8" lengthAdjust="spacingAndGlyphs">Slip</text>
<line x1="325.5" y1="693.9" x2="337.5" y2="693.9" stroke="#ffff9c" stroke-width="1.7"/>
<path d="M331.50,688.30 L337.10,699.50 L325.90,699.50Z" fill="#ffff55" stroke="#2b2be6" stroke-width="1" stroke-linejoin="miter"/>
<text x="340.9" y="696.8" class="lg" textLength="75.2" lengthAdjust="spacingAndGlyphs">Current at 208 V</text>
<line x1="421.1" y1="693.9" x2="433.1" y2="693.9" stroke="#ffb0ff" stroke-width="1.7"/>
<path d="M427.10,699.50 L432.70,688.30 L421.50,688.30Z" fill="#ff55ff" stroke="#6a6aff" stroke-width="1" stroke-linejoin="miter"/>
<text x="436.7" y="696.8" class="lg" textLength="75.6" lengthAdjust="spacingAndGlyphs">Current at 230 V</text>
<path d="M516.85,690.75 L520.25,687.35 L524.50,692.60 L528.75,687.35 L532.15,690.75 L526.90,695.00 L532.15,699.25 L528.75,702.65 L524.50,697.40 L520.25,702.65 L516.85,699.25 L522.10,695.00Z" fill="#55ffff" stroke="#6ad8ff" stroke-width="0.7"/>
<text x="535.4" y="697.6" class="lg" textLength="75.9" lengthAdjust="spacingAndGlyphs">Current at 460 V</text>
</svg>
</body></html>
